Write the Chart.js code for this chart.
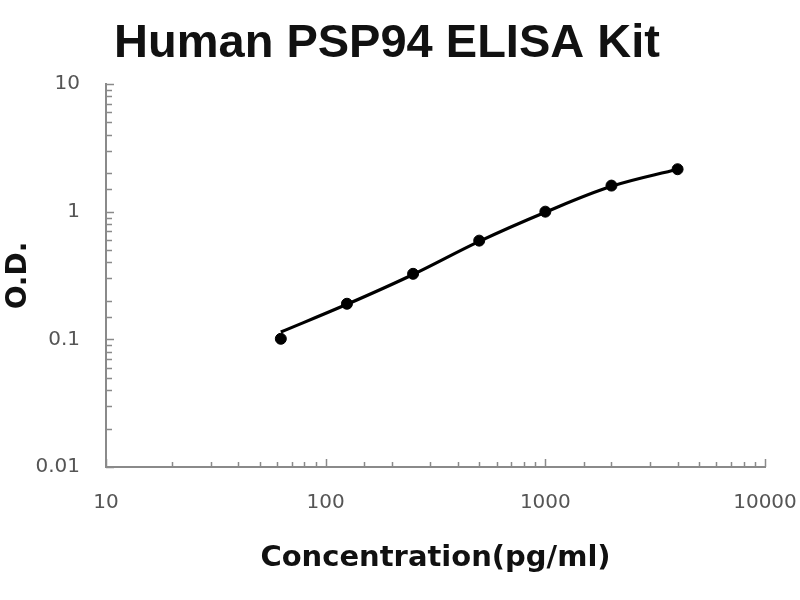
<!DOCTYPE html>
<html>
<head>
<meta charset="utf-8">
<script src="https://cdn.jsdelivr.net/npm/chart.js@4"></script>
<style>
html,body{margin:0;padding:0;background:#fff;}
canvas{display:block;}
</style>
</head>
<body>
<canvas id="c" width="800" height="600"></canvas>
<script>
const concentrations = [62.5, 125, 250, 500, 1000, 2000, 4000];
const odPoints = [0.101, 0.19, 0.326, 0.593, 1.0, 1.6, 2.15];
const odCurve = [0.114, 0.188, 0.322, 0.585, 0.99, 1.58, 2.15];
const xTickLabels = ['10', '100', '1000', '10000'];
const yTickLabels = ['0.01', '0.1', '1', '10'];
const chartTitle = 'Human PSP94 ELISA Kit';
const xTitle = 'Concentration(pg/ml)';
const yTitle = 'O.D.';

const isDecade = v => Math.abs(Math.log10(v) - Math.round(Math.log10(v))) < 1e-6;

const innerTicks = {
  id: 'innerTicks',
  afterDatasetsDraw(chart) {
    const ctx = chart.ctx;
    const xs = chart.scales.x, ys = chart.scales.y;
    const ca = chart.chartArea;
    ctx.save();
    ctx.strokeStyle = '#8a8a8a';
    ctx.lineWidth = 1.5;
    xs.ticks.forEach(t => {
      const px = Math.round(xs.getPixelForValue(t.value)) + 0.5;
      const len = isDecade(t.value) ? 8 : 5;
      ctx.beginPath();
      ctx.moveTo(px, ca.bottom);
      ctx.lineTo(px, ca.bottom - len);
      ctx.stroke();
    });
    ys.ticks.forEach(t => {
      const py = Math.round(ys.getPixelForValue(t.value)) + 0.5;
      const len = isDecade(t.value) ? 8 : 6;
      ctx.beginPath();
      ctx.moveTo(ca.left, py);
      ctx.lineTo(ca.left + len, py);
      ctx.stroke();
    });
    ctx.restore();
  }
};

const mainTitle = {
  id: 'mainTitle',
  afterDraw(chart) {
    const ctx = chart.ctx;
    ctx.save();
    ctx.font = 'bold 47px "Liberation Sans", Arial, sans-serif';
    ctx.fillStyle = '#111';
    ctx.textAlign = 'center';
    ctx.textBaseline = 'alphabetic';
    ctx.fillText(chartTitle, 387, 57);
    ctx.restore();
  }
};

new Chart(document.getElementById('c'), {
  type: 'scatter',
  data: {
    datasets: [
      {
        type: 'line',
        label: 'fit',
        data: concentrations.map((x, i) => ({x, y: odCurve[i]})),
        borderColor: '#000',
        borderWidth: 3.2,
        pointRadius: 0,
        fill: false,
        tension: 0.35
      },
      {
        label: 'points',
        data: concentrations.map((x, i) => ({x, y: odPoints[i]})),
        backgroundColor: '#000',
        borderColor: '#000',
        pointRadius: 5.5,
        pointHoverRadius: 5.5
      }
    ]
  },
  options: {
    responsive: false,
    animation: false,
    devicePixelRatio: 1,
    layout: {padding: {top: 84, right: 35, bottom: 0, left: 0}},
    plugins: {legend: {display: false}, tooltip: {enabled: false}, title: {display: false}},
    scales: {
      x: {
        type: 'logarithmic',
        min: 10, max: 10000,
        afterFit: s => { s.height = 133; s.paddingRight = 0; s.paddingLeft = 0; },
        grid: {display: true, drawOnChartArea: false, drawTicks: false},
        border: {display: true, color: '#8a8a8a', width: 2},
        ticks: {
          autoSkip: false,
          maxRotation: 0,
          padding: 24,
          color: '#555',
          font: {family: '"DejaVu Sans", sans-serif', size: 20},
          callback: v => isDecade(v) ? xTickLabels[Math.round(Math.log10(v)) - 1] : ''
        },
        title: {
          display: true,
          text: xTitle,
          color: '#111',
          font: {family: '"DejaVu Sans", sans-serif', size: 29, weight: 'bold'},
          padding: {top: 0, bottom: 24}
        }
      },
      y: {
        type: 'logarithmic',
        min: 0.01, max: 10,
        afterFit: s => { s.width = 106; s.paddingTop = 0; s.paddingBottom = 0; },
        grid: {display: true, drawOnChartArea: false, drawTicks: false},
        border: {display: true, color: '#8a8a8a', width: 2},
        ticks: {
          autoSkip: false,
          padding: 26,
          color: '#555',
          font: {family: '"DejaVu Sans", sans-serif', size: 20},
          callback: v => isDecade(v) ? yTickLabels[Math.round(Math.log10(v)) + 2] : ''
        },
        title: {
          display: true,
          text: yTitle,
          color: '#111',
          font: {family: '"DejaVu Sans", sans-serif', size: 28, weight: 'bold'},
          padding: {top: 2, bottom: 0}
        }
      }
    }
  },
  plugins: [innerTicks, mainTitle]
});
</script>
</body>
</html>
